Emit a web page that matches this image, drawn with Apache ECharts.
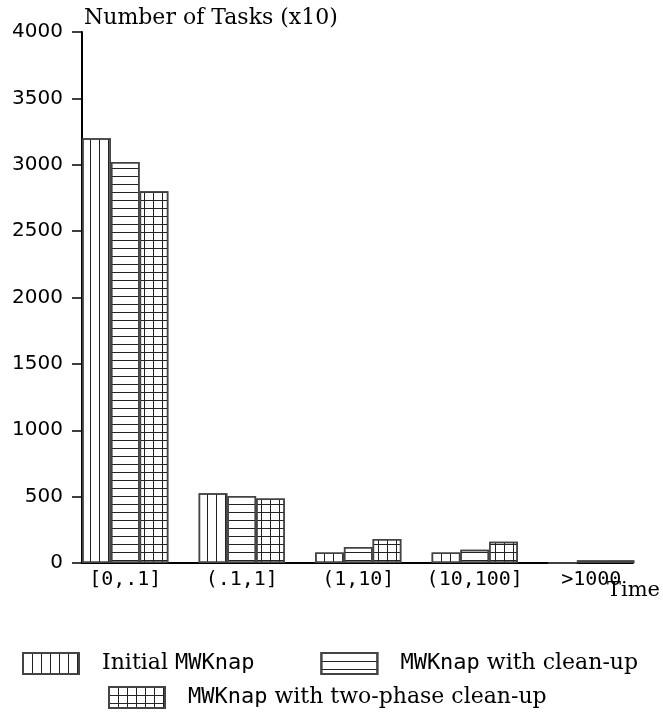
<!DOCTYPE html>
<html>
<head>
<meta charset="utf-8">
<script src="https://cdn.jsdelivr.net/npm/echarts@6/dist/echarts.min.js"></script>
<style>
  html, body { margin: 0; padding: 0; background: #fff; }
  #chart { width: 663px; height: 720px; }
</style>
</head>
<body>
<div id="chart"></div>
<script>
// Task counts per solve-time bucket (units of 10 tasks)
const categories = ['[0,.1]', '(.1,1]', '(1,10]', '(10,100]', '>1000'];
const initialMWKnap = [3200, 525, 80, 80, 0];
const withCleanUp = [3020, 505, 120, 100, 20];
const withTwoPhase = [2800, 485, 180, 160, 20];
const yTicks = { min: 0, max: 4000, step: 500 };
const seriesNames = ['Initial MWKnap', 'MWKnap with clean-up', 'MWKnap with two-phase clean-up'];

const SERIF = 'DejaVu Serif';
const MONO = 'DejaVu Sans Mono';
const SANS = 'DejaVu Sans';

// hatch patterns
const lineColor = '#222';
const vLines = { symbol: 'rect', symbolSize: 1, color: lineColor, dashArrayX: [1, 8], dashArrayY: [9, 0] };
const hLines = { symbol: 'rect', symbolSize: 1, color: lineColor, dashArrayX: [9, 0], dashArrayY: [1, 7] };
const gridLines = { symbol: 'rect', symbolSize: 1, color: lineColor, dashArrayX: [[9, 0], [1, 8]], dashArrayY: [1, 0, 7, 0] };
const decals = [vLines, hLines, gridLines];
const values = [initialMWKnap, withCleanUp, withTwoPhase];

const chart = echarts.init(document.getElementById('chart'), null, { renderer: 'canvas' });

const legendRich = {
  g: { width: 18 },
  s: { fontFamily: SERIF, fontSize: 22, color: '#000' },
  m: { fontFamily: MONO, fontSize: 22, color: '#000' }
};
function legendLabel(name) {
  if (name === seriesNames[0]) return '{g|}{s|Initial }{m|MWKnap}';
  if (name === seriesNames[1]) return '{g|}{m|MWKnap}{s| with clean-up}';
  return '{g|}{m|MWKnap}{s| with two-phase clean-up}';
}

const legendCommon = {
  orient: 'horizontal',
  padding: 0,
  itemWidth: 56,
  itemHeight: 21,
  icon: 'rect',
  selectedMode: false,
  formatter: legendLabel,
  textStyle: { rich: legendRich }
};

chart.setOption({
  animation: false,
  backgroundColor: '#fff',
  grid: [
    { left: 82, right: 28, top: 32, bottom: 157 },
    { left: 67, width: 582.5, top: 32, bottom: 157 }
  ],
  legend: [
    Object.assign({}, legendCommon, { data: [seriesNames[0], seriesNames[1]], left: 22, top: 652, itemGap: 66 }),
    Object.assign({}, legendCommon, { data: [seriesNames[2]], left: 108, top: 686 })
  ],
  xAxis: [
    {
      gridIndex: 0, type: 'value', min: 0, max: 1,
      axisLine: { show: true, lineStyle: { color: '#000', width: 2 } },
      axisTick: { show: false }, axisLabel: { show: false }, splitLine: { show: false },
      name: 'Time', nameLocation: 'end', nameGap: -26,
      nameTextStyle: { fontFamily: SERIF, fontSize: 21, color: '#000', align: 'left', verticalAlign: 'top', padding: [17, 0, 0, 0] }
    },
    {
      gridIndex: 1, type: 'category', data: categories,
      axisLine: { show: false }, axisTick: { show: false },
      axisLabel: { interval: 0, fontFamily: MONO, fontSize: 20, color: '#000', margin: 7 }
    }
  ],
  yAxis: [
    {
      gridIndex: 0, type: 'value', min: yTicks.min, max: yTicks.max, interval: yTicks.step,
      axisLine: { show: true, lineStyle: { color: '#000', width: 2 } },
      axisTick: { show: true, length: 10, lineStyle: { color: '#000', width: 1.5 } },
      axisLabel: { fontFamily: SANS, fontSize: 20, color: '#000', margin: 19, formatter: v => String(v) },
      splitLine: { show: false },
      name: 'Number of Tasks (x10)', nameLocation: 'end', nameGap: 3,
      nameTextStyle: { fontFamily: SERIF, fontSize: 22, color: '#000', align: 'left', verticalAlign: 'bottom', padding: [0, 0, 0, 2] }
    },
    { gridIndex: 1, type: 'value', min: yTicks.min, max: yTicks.max, show: false }
  ],
  series: seriesNames.map((name, i) => ({
    name: name,
    type: 'bar',
    xAxisIndex: 1,
    yAxisIndex: 1,
    data: values[i],
    barGap: '0%',
    barCategoryGap: '26%',
    itemStyle: { color: '#fff', borderColor: '#444', borderWidth: 1.5, decal: decals[i] }
  }))
});
</script>
</body>
</html>
